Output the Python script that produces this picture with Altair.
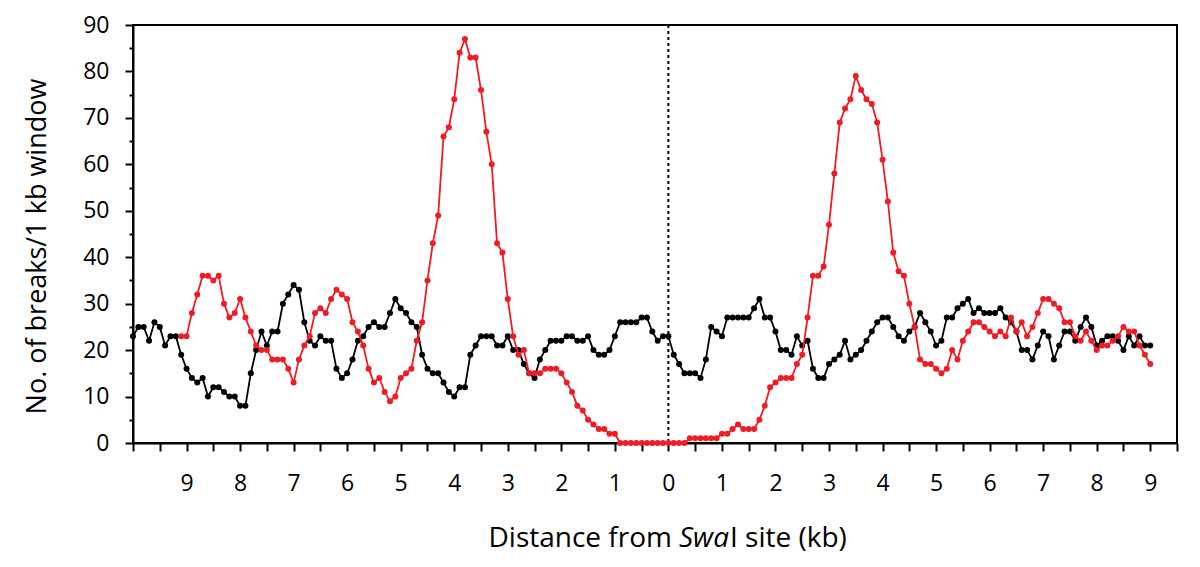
import altair as alt
import pandas as pd

# Black series: -10.0 .. 9.0 kb in 0.1 kb steps
black_y = [23, 25, 25, 22, 26, 25, 21, 23, 23, 19,
           16, 14, 13, 14, 10, 12, 12, 11, 10, 10,
           8, 8, 15, 20, 24, 21, 24, 24, 30, 32,
           34, 33, 26, 22, 21, 23, 22, 22, 16, 14,
           15, 18, 22, 23, 25, 26, 25, 25, 28, 31,
           29, 28, 26, 25, 19, 16, 15, 15, 13, 11,
           10, 12, 12, 19, 21, 23, 23, 23, 21, 21,
           23, 20, 20, 17, 15, 14, 18, 20, 22, 22,
           22, 23, 23, 22, 22, 23, 20, 19, 19, 20,
           23, 26, 26, 26, 26, 27, 27, 24, 22, 23,
           23, 19, 17, 15, 15, 15, 14, 18, 25, 24,
           23, 27, 27, 27, 27, 27, 29, 31, 27, 27,
           24, 20, 20, 19, 23, 21, 22, 16, 14, 14,
           17, 18, 19, 22, 18, 19, 20, 22, 24, 26,
           27, 27, 25, 23, 22, 24, 25, 28, 26, 24,
           21, 22, 27, 27, 29, 30, 31, 28, 29, 28,
           28, 28, 29, 27, 26, 24, 20, 20, 18, 21,
           24, 23, 18, 21, 24, 24, 22, 25, 27, 25,
           21, 22, 23, 23, 22, 20, 23, 21, 23, 21,
           21]

# Red series: -9.1 .. 9.0 kb in 0.1 kb steps
red_y = [23, 23, 28, 32, 36, 36, 35, 36, 30, 27,
         28, 31, 27, 24, 21, 20, 20, 18, 18, 18,
         16, 13, 18, 21, 23, 28, 29, 28, 31, 33,
         32, 31, 26, 24, 21, 16, 13, 14, 11, 9,
         10, 14, 15, 16, 22, 26, 35, 43, 49, 66,
         68, 74, 84, 87, 83, 83, 76, 67, 60, 43,
         41, 31, 23, 19, 20, 15, 15, 15, 16, 16,
         16, 15, 13, 11, 8, 7, 5, 4, 3, 3,
         2, 2, 0, 0, 0, 0, 0, 0, 0, 0,
         0, 0, 0, 0, 0, 1, 1, 1, 1, 1,
         1, 2, 2, 3, 4, 3, 3, 3, 5, 8,
         12, 13, 14, 14, 14, 17, 19, 27, 36, 36,
         38, 47, 58, 69, 72, 74, 79, 76, 74, 73,
         69, 61, 52, 41, 37, 36, 30, 25, 18, 17,
         17, 16, 15, 16, 20, 18, 22, 24, 26, 26,
         25, 24, 23, 24, 23, 27, 24, 26, 23, 25,
         28, 31, 31, 30, 29, 26, 26, 23, 22, 24,
         22, 20, 21, 21, 22, 23, 25, 24, 24, 21,
         19, 17]

black_x = [round(-10.0 + 0.1 * i, 1) for i in range(len(black_y))]
red_x = [round(-9.1 + 0.1 * i, 1) for i in range(len(red_y))]

x_ticks = [i / 2 for i in range(-20, 20)]
y_ticks = list(range(0, 95, 5))

FONT = "Open Sans"
W, H = 1044, 418

black_df = pd.DataFrame({"x": black_x, "y": black_y})
red_df = pd.DataFrame({"x": red_x, "y": red_y})

xscale = alt.Scale(domain=[-10, 9.5], nice=False, zero=False)
yscale = alt.Scale(domain=[0, 90], nice=False)

x_axis = alt.Axis(
    values=x_ticks,
    labelExpr="(datum.value % 1 == 0 && datum.value > -10) ? '' + abs(datum.value) : ''",
    title=None, grid=False, tickSize=8, tickWidth=2, domainWidth=2,
    labelFontSize=23, labelFont=FONT, labelPadding=21, labelColor="black",
    tickColor="black", domainColor="black", labelFlush=False, labelOverlap=False,
)
y_axis = alt.Axis(
    values=y_ticks,
    labelExpr="datum.value % 10 == 0 ? datum.label : ''",
    title="No. of breaks/1 kb window", titleFont=FONT, titleFontSize=27,
    titleFontWeight="normal", titleColor="black", titleAngle=270,
    titleX=-88, titleY=221, titleAlign="center", titleBaseline="alphabetic",
    grid=False, tickSize=alt.condition("datum.value % 10 == 0", alt.value(8), alt.value(4)),
    tickWidth=2, domainWidth=2, labelFontSize=23, labelFont=FONT,
    labelPadding=16, labelColor="black", tickColor="black", domainColor="black",
    labelOverlap=False,
)

base_x = alt.X("x:Q", scale=xscale, axis=x_axis)
base_y = alt.Y("y:Q", scale=yscale, axis=y_axis)

zero_line = alt.Chart(pd.DataFrame({"x": [0]})).mark_rule(
    color="black", strokeWidth=2, strokeDash=[3, 3]
).encode(x=alt.X("x:Q", scale=xscale, axis=x_axis))

black_line = alt.Chart(black_df).mark_line(color="black", strokeWidth=1.8).encode(x=base_x, y=base_y)
black_pts = alt.Chart(black_df).mark_point(color="black", filled=True, size=36, opacity=1).encode(x=base_x, y=base_y)
red_line = alt.Chart(red_df).mark_line(color="#ee1c25", strokeWidth=1.8).encode(x=base_x, y=base_y)
red_pts = alt.Chart(red_df).mark_point(color="#ee1c25", filled=True, size=36, opacity=1).encode(x=base_x, y=base_y)

title_y = H + 104
t1 = alt.Chart(pd.DataFrame({"t": ["Distance from"]})).mark_text(
    font=FONT, fontSize=28, align="right", baseline="alphabetic", color="black"
).encode(text="t:N", x=alt.value(539), y=alt.value(title_y))
t2 = alt.Chart(pd.DataFrame({"t": ["Swa"]})).mark_text(
    font=FONT, fontSize=28, fontStyle="italic", align="left", baseline="alphabetic", color="black"
).encode(text="t:N", x=alt.value(546), y=alt.value(title_y))
t3 = alt.Chart(pd.DataFrame({"t": ["I site (kb)"]})).mark_text(
    font=FONT, fontSize=28, align="left", baseline="alphabetic", color="black"
).encode(text="t:N", x=alt.value(597), y=alt.value(title_y))

chart = alt.layer(
    zero_line, black_line, black_pts, red_line, red_pts, t1, t2, t3
).properties(
    width=W, height=H,
    padding={"left": 125, "top": 17, "right": 12, "bottom": 112},
    autosize=alt.AutoSizeParams(type="none"),
    background="white",
).configure_view(
    stroke="black", strokeWidth=2
)

chart.save("out.html", embed_options={"renderer": "svg", "actions": False})
